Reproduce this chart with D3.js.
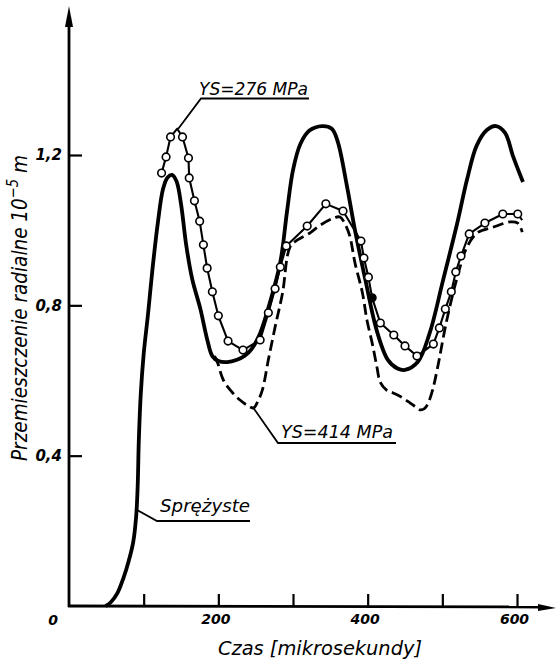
<!DOCTYPE html>
<html>
<head>
<meta charset="utf-8">
<script src="https://cdn.jsdelivr.net/npm/d3@7/dist/d3.min.js"></script>
<style>
  html, body { margin: 0; padding: 0; background: #fff; }
  svg { display: block; }
  text { font-family: "DejaVu Sans Condensed", "Liberation Sans Narrow", "DejaVu Sans", sans-serif; font-style: italic; fill: #000; }
</style>
</head>
<body>
<svg id="chart" width="556" height="661"></svg>
<script>
// Time axis [µs] and radial displacement [10^-5 m]
const xTicks = [100, 200, 300, 400, 500, 600];
const xTickLabels = [200, 400, 600];
const yTicks = [0.4, 0.8, 1.2];

// Elastic response (Sprężyste), solid line
const elasticT = [49, 56, 65, 73, 80, 86, 90, 92, 93.5, 96, 100, 106, 112, 119, 126, 132, 138, 144, 150, 157, 165, 176, 185, 192, 200, 212, 225, 235, 245, 256, 268, 283, 292, 300, 310, 322, 339, 352, 360, 372, 383, 397, 412, 427, 440, 450, 467, 483, 501, 520, 533, 546, 560, 572, 584, 595, 608];
const elasticV = [0, 0.01, 0.035, 0.075, 0.12, 0.17, 0.24, 0.32, 0.44, 0.56, 0.67, 0.78, 0.9, 1.02, 1.11, 1.14, 1.147, 1.13, 1.07, 0.96, 0.87, 0.79, 0.71, 0.665, 0.652, 0.649, 0.655, 0.665, 0.685, 0.726, 0.8, 0.915, 1.05, 1.16, 1.23, 1.265, 1.277, 1.27, 1.235, 1.12, 1.0, 0.867, 0.734, 0.655, 0.632, 0.628, 0.649, 0.726, 0.867, 1.019, 1.134, 1.225, 1.267, 1.277, 1.259, 1.195, 1.128];

// YS = 276 MPa, measured points (circles)
const ys276T = [124, 130, 136, 152, 160, 161, 168, 175, 180, 185, 192, 200, 213, 233, 256, 267, 276, 283, 291, 319, 344, 367, 391, 395, 401, 406, 417, 435, 450, 466, 488, 496, 504, 512, 518, 525, 536, 557, 581, 601];
const ys276V = [1.152, 1.195, 1.248, 1.248, 1.192, 1.139, 1.078, 1.024, 0.961, 0.899, 0.836, 0.772, 0.705, 0.681, 0.708, 0.78, 0.844, 0.902, 0.958, 1.011, 1.07, 1.051, 0.971, 0.926, 0.875, 0.82, 0.753, 0.721, 0.692, 0.665, 0.697, 0.74, 0.79, 0.836, 0.889, 0.931, 0.99, 1.019, 1.043, 1.043];
const ys276Peak = [145, 1.27];
const ys276End = [607, 1.027];
const ys276FilledT = 406;

// YS = 414 MPa, dashed line (leaves the elastic curve after the first peak)
const ys414T = [195, 199, 207, 218, 229, 238, 247, 253, 259, 267, 276, 286, 296, 306, 323, 337, 354, 363, 370, 376, 383, 393, 399, 406, 412, 417, 425, 434, 446, 457, 464, 470, 476, 481, 487, 493, 506, 520, 533, 547, 568, 591, 601, 607];
const ys414V = [0.665, 0.647, 0.60, 0.57, 0.548, 0.535, 0.527, 0.545, 0.575, 0.655, 0.742, 0.833, 0.955, 0.974, 0.993, 1.014, 1.032, 1.035, 1.015, 0.985, 0.913, 0.833, 0.761, 0.70, 0.64, 0.595, 0.575, 0.567, 0.555, 0.54, 0.53, 0.522, 0.525, 0.54, 0.575, 0.628, 0.761, 0.875, 0.955, 0.993, 1.008, 1.022, 1.019, 0.995];

const svg = d3.select("#chart");
const x = d3.scaleLinear().domain([0, 600]).range([69, 517]);
const y = d3.scaleLinear().domain([0, 1.2]).range([606, 155]);

const plLocale = d3.formatLocale({ decimal: ",", thousands: " ", grouping: [3], currency: ["", " zł"] });
const fmtY = plLocale.format(".1f");

const tickFont = "'DejaVu Sans', sans-serif";

// ---- axes ----
const xAxis = d3.axisBottom(x).tickValues(xTicks).tickSizeInner(-12).tickSizeOuter(0).tickPadding(8)
  .tickFormat(d => xTickLabels.includes(d) ? d : "");
const gx = svg.append("g").attr("transform", `translate(0,${y(0)})`).call(xAxis);
gx.select(".domain").remove();
gx.selectAll(".tick line").attr("stroke", "#000").attr("stroke-width", 2.2);
gx.selectAll(".tick text").attr("font-size", 14).attr("font-weight", "bold").attr("dx", -3)
  .style("font-family", tickFont).style("font-style", "italic");

const yAxis = d3.axisLeft(y).tickValues(yTicks).tickSizeInner(-13).tickSizeOuter(0).tickPadding(7)
  .tickFormat(fmtY);
const gy = svg.append("g").attr("transform", `translate(${x(0)},0)`).call(yAxis);
gy.select(".domain").remove();
gy.selectAll(".tick line").attr("stroke", "#000").attr("stroke-width", 2.2);
gy.selectAll(".tick text").attr("font-size", 15).attr("font-weight", "bold")
  .style("font-family", tickFont).style("font-style", "italic");

// origin label
svg.append("text").attr("x", x(0) - 16).attr("y", y(0) + 19)
  .attr("font-size", 14).attr("font-weight", "bold").attr("text-anchor", "middle")
  .style("font-family", tickFont).text("0");

// axis lines with arrow heads
const axisG = svg.append("g").attr("stroke", "#000").attr("stroke-width", 2.8).attr("fill", "none");
axisG.append("line").attr("x1", x(0)).attr("y1", y(0) + 1).attr("x2", x(0)).attr("y2", 22);
axisG.append("line").attr("x1", x(0) - 1).attr("y1", y(0)).attr("x2", 542).attr("y2", y(0) + 1);
svg.append("path").attr("d", `M${x(0)},6 L${x(0) - 4},27 L${x(0) + 4},27 Z`).attr("fill", "#000");
svg.append("path").attr("d", `M556,${y(0) + 2} L538,${y(0) - 2} L538,${y(0) + 5} Z`).attr("fill", "#000");

// ---- curves ----
const line = d3.line().x(d => x(d[0])).y(d => y(d[1]));

const elastic = elasticT.map((t, i) => [t, elasticV[i]]);
svg.append("path").datum(elastic)
  .attr("d", line.curve(d3.curveCatmullRom.alpha(0.5)))
  .attr("fill", "none").attr("stroke", "#000").attr("stroke-width", 3.8).attr("stroke-linejoin", "round");

const ys414 = ys414T.map((t, i) => [t, ys414V[i]]);
svg.append("path").datum(ys414)
  .attr("d", line.curve(d3.curveCatmullRom.alpha(0.5)))
  .attr("fill", "none").attr("stroke", "#000").attr("stroke-width", 2.8)
  .attr("stroke-dasharray", "11,5");

const ys276Pts = ys276T.map((t, i) => [t, ys276V[i]]);
const ys276Line = ys276Pts.concat([ys276Peak, ys276End]).sort((a, b) => a[0] - b[0]);
svg.append("path").datum(ys276Line)
  .attr("d", line.curve(d3.curveLinear))
  .attr("fill", "none").attr("stroke", "#000").attr("stroke-width", 2.1).attr("stroke-linejoin", "round");
svg.append("g").selectAll("circle").data(ys276Pts).join("circle")
  .attr("cx", d => x(d[0])).attr("cy", d => y(d[1])).attr("r", 3.8)
  .attr("fill", d => d[0] === ys276FilledT ? "#000" : "#fff")
  .attr("stroke", "#000").attr("stroke-width", 1.6);

// ---- annotations ----
function note(label, tx, ty, width, ux1, ux2, uy, target) {
  svg.append("text").attr("x", tx).attr("y", ty).attr("font-size", 18)
    .attr("textLength", width).attr("lengthAdjust", "spacingAndGlyphs").text(label);
  svg.append("path")
    .attr("d", `M${ux2},${uy} L${ux1},${uy} L${target[0]},${target[1]}`)
    .attr("fill", "none").attr("stroke", "#000").attr("stroke-width", 1.8);
}
note("YS=276 MPa", 199, 95, 109, 201, 309, 98.5, [x(ys276Peak[0]) + 1, y(ys276Peak[1])]);
note("YS=414 MPa", 281, 438, 112, 278, 396, 443, [x(247), y(0.527)]);
note("Sprężyste", 160, 512, 90, 157, 250, 521, [x(91.8), y(0.255)]);

// axis titles
svg.append("text").attr("x", 218).attr("y", 655).attr("font-size", 20)
  .attr("textLength", 204).attr("lengthAdjust", "spacingAndGlyphs").text("Czas [mikrosekundy]");

const yt = svg.append("text").attr("transform", "translate(27,308) rotate(-90)")
  .attr("text-anchor", "middle").attr("font-size", 21)
  .attr("textLength", 306).attr("lengthAdjust", "spacingAndGlyphs");
yt.append("tspan").text("Przemieszczenie radialne 10");
yt.append("tspan").attr("font-size", 15).attr("dy", -9).text("−5");
yt.append("tspan").attr("dy", 9).text(" m");
</script>
</body>
</html>
